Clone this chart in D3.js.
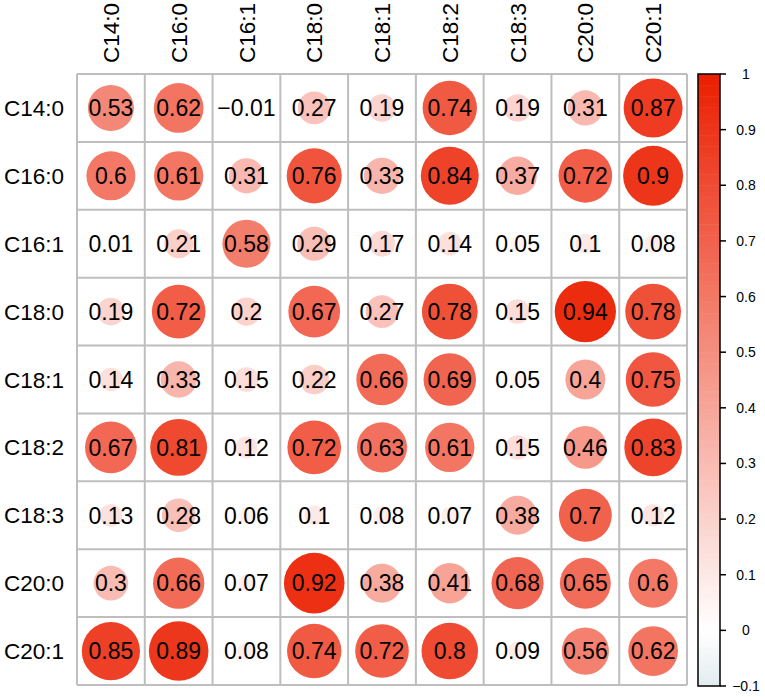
<!DOCTYPE html>
<html>
<head>
<meta charset="utf-8">
<script src="https://cdn.jsdelivr.net/npm/d3@7"></script>
<style>
  body { margin: 0; background: #fff; }
  text { font-family: "Liberation Sans", Arial, sans-serif; }
</style>
</head>
<body>
<div id="chart"></div>
<script>
// fatty acid names (rows and columns)
const labels = ["C14:0", "C16:0", "C16:1", "C18:0", "C18:1", "C18:2", "C18:3", "C20:0", "C20:1"];

// correlation values, one array per row
const rowC14_0 = [0.53, 0.62, -0.01, 0.27, 0.19, 0.74, 0.19, 0.31, 0.87];
const rowC16_0 = [0.6, 0.61, 0.31, 0.76, 0.33, 0.84, 0.37, 0.72, 0.9];
const rowC16_1 = [0.01, 0.21, 0.58, 0.29, 0.17, 0.14, 0.05, 0.1, 0.08];
const rowC18_0 = [0.19, 0.72, 0.2, 0.67, 0.27, 0.78, 0.15, 0.94, 0.78];
const rowC18_1 = [0.14, 0.33, 0.15, 0.22, 0.66, 0.69, 0.05, 0.4, 0.75];
const rowC18_2 = [0.67, 0.81, 0.12, 0.72, 0.63, 0.61, 0.15, 0.46, 0.83];
const rowC18_3 = [0.13, 0.28, 0.06, 0.1, 0.08, 0.07, 0.38, 0.7, 0.12];
const rowC20_0 = [0.3, 0.66, 0.07, 0.92, 0.38, 0.41, 0.68, 0.65, 0.6];
const rowC20_1 = [0.85, 0.89, 0.08, 0.74, 0.72, 0.8, 0.09, 0.56, 0.62];
const rows = [rowC14_0, rowC16_0, rowC16_1, rowC18_0, rowC18_1, rowC18_2, rowC18_3, rowC20_0, rowC20_1];

// colour legend ticks
const legendTicks = [1, 0.9, 0.8, 0.7, 0.6, 0.5, 0.4, 0.3, 0.2, 0.1, 0, -0.1];

const width = 765, height = 697;
const svg = d3.select("#chart").append("svg")
    .attr("width", width)
    .attr("height", height);

const x = d3.scaleBand().domain(labels).range([77, 687]);
const y = d3.scaleBand().domain(labels).range([74, 685]);
const color = d3.scaleLinear()
    .domain([-0.1, 0, 1])
    .range(["#E2ECEF", "#FFFFFF", "#EB1E00"]);
const radius = d3.scaleSqrt().domain([0, 1]).range([0, 31.6]);

const fmt = v => (v < 0 ? "\u2212" : "") + String(Math.abs(v));

const cells = [];
rows.forEach((r, i) => r.forEach((v, j) => cells.push({row: labels[i], col: labels[j], value: v})));

// circles
svg.append("g").selectAll("circle")
    .data(cells)
    .enter()
    .append("circle")
    .attr("cx", d => x(d.col) + x.bandwidth() / 2)
    .attr("cy", d => y(d.row) + y.bandwidth() / 2)
    .attr("r", d => radius(Math.abs(d.value)))
    .attr("fill", d => color(d.value));

// grid
const grid = svg.append("g")
    .attr("stroke", "#BEBEBE")
    .attr("stroke-width", 2);
labels.concat(["end"]).forEach((l, i) => {
    const xx = i < labels.length ? x(l) : x.range()[1];
    const yy = i < labels.length ? y(l) : y.range()[1];
    grid.append("line").attr("x1", xx).attr("x2", xx).attr("y1", y.range()[0]).attr("y2", y.range()[1]);
    grid.append("line").attr("y1", yy).attr("y2", yy).attr("x1", x.range()[0]).attr("x2", x.range()[1]);
});

// numbers
svg.append("g").selectAll("text")
    .data(cells)
    .enter()
    .append("text")
    .attr("x", d => x(d.col) + x.bandwidth() / 2)
    .attr("y", d => y(d.row) + y.bandwidth() / 2)
    .attr("dy", "0.36em")
    .attr("text-anchor", "middle")
    .style("font-size", "23px")
    .text(d => fmt(d.value));

// row labels
svg.append("g").selectAll("text")
    .data(labels)
    .enter()
    .append("text")
    .attr("x", 64)
    .attr("y", d => y(d) + y.bandwidth() / 2)
    .attr("dy", "0.36em")
    .attr("text-anchor", "end")
    .style("font-size", "22.5px")
    .text(d => d);

// column labels
svg.append("g").selectAll("text")
    .data(labels)
    .enter()
    .append("text")
    .attr("transform", d => "translate(" + (x(d) + x.bandwidth() / 2) + ",63)rotate(-90)")
    .attr("dy", "0.36em")
    .attr("text-anchor", "start")
    .style("font-size", "22.5px")
    .text(d => d);

// colour legend
const ly = d3.scaleLinear().domain([1, -0.1]).range([74, 686]);
const steps = d3.range(110).map(i => -0.1 + i * 0.01);
const legend = svg.append("g");
legend.selectAll("rect")
    .data(steps)
    .enter()
    .append("rect")
    .attr("x", 698)
    .attr("width", 22)
    .attr("y", d => ly(d + 0.01))
    .attr("height", d => ly(d) - ly(d + 0.01) + 0.5)
    .attr("fill", d => color(d + 0.005));
legend.append("rect")
    .attr("x", 698).attr("y", 74)
    .attr("width", 22).attr("height", 612)
    .attr("fill", "none")
    .attr("stroke", "#000")
    .attr("stroke-width", 1.5);
legend.selectAll("line")
    .data(legendTicks)
    .enter()
    .append("line")
    .attr("x1", 720).attr("x2", 726)
    .attr("y1", d => ly(d)).attr("y2", d => ly(d))
    .attr("stroke", "#000")
    .attr("stroke-width", 1.5);
legend.selectAll("text")
    .data(legendTicks)
    .enter()
    .append("text")
    .attr("x", 746)
    .attr("y", d => ly(d))
    .attr("dy", "0.36em")
    .attr("text-anchor", "middle")
    .style("font-size", "14px")
    .text(d => fmt(d));
</script>
</body>
</html>
